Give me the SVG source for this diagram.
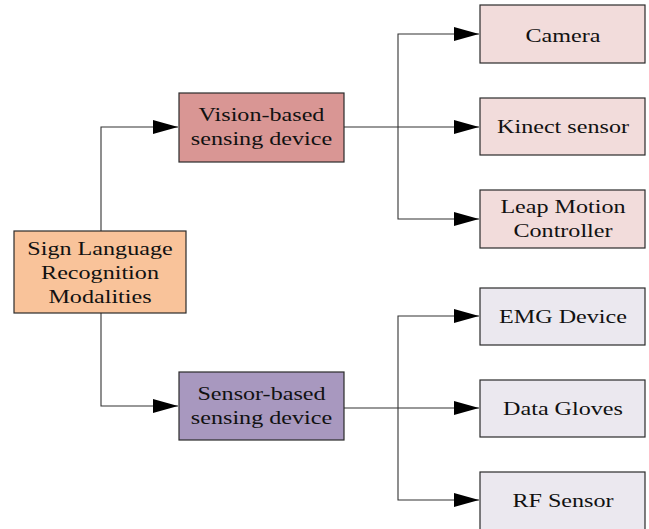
<svg xmlns="http://www.w3.org/2000/svg" width="649" height="529" viewBox="0 0 649 529">
<style>
.box{stroke:#2b2b2b;stroke-width:1.2}
.t{font-family:"Liberation Serif","Times New Roman",serif;font-size:19px;fill:#111;text-anchor:middle}
.c{fill:none;stroke:#333;stroke-width:1.1}
</style>
<defs>
<marker id="arr" markerUnits="userSpaceOnUse" markerWidth="26" markerHeight="16" refX="25" refY="7" orient="auto">
<path d="M0,0 L25,7 L0,14 Z" fill="#000"/>
</marker>
</defs>
<rect width="649" height="529" fill="#fff"/>
<g id="connectors">
<path class="c" d="M101,231 V127 H178" marker-end="url(#arr)"/>
<path class="c" d="M101,313 V406 H178" marker-end="url(#arr)"/>
<path class="c" d="M344,127 H479" marker-end="url(#arr)"/>
<path class="c" d="M398,127 V34 H479" marker-end="url(#arr)"/>
<path class="c" d="M398,127 V219 H479" marker-end="url(#arr)"/>
<path class="c" d="M344,408 H479" marker-end="url(#arr)"/>
<path class="c" d="M398,408 V316 H479" marker-end="url(#arr)"/>
<path class="c" d="M398,408 V500 H479" marker-end="url(#arr)"/>
</g>
<g id="root">
<rect class="box" x="14" y="231" width="172" height="82" fill="#F9C39A"/>
<g transform="translate(100,0) scale(1.27,1)">
<text class="t" x="0" y="255">Sign Language</text>
<text class="t" x="0" y="279">Recognition</text>
<text class="t" x="0" y="303">Modalities</text>
</g>
</g>
<g id="vision">
<rect class="box" x="179" y="93" width="165" height="69" fill="#D99694"/>
<g transform="translate(261.5,0) scale(1.27,1)">
<text class="t" x="0" y="121">Vision-based</text>
<text class="t" x="0" y="145">sensing device</text>
</g>
</g>
<g id="sensor">
<rect class="box" x="179" y="372" width="165" height="68" fill="#A898BF"/>
<g transform="translate(261.5,0) scale(1.27,1)">
<text class="t" x="0" y="400">Sensor-based</text>
<text class="t" x="0" y="424">sensing device</text>
</g>
</g>
<g id="camera">
<rect class="box" x="480" y="5" width="165" height="58" fill="#F2DCDB"/>
<text class="t" transform="translate(563,0) scale(1.27,1)" x="0" y="42">Camera</text>
</g>
<g id="kinect">
<rect class="box" x="480" y="98" width="165" height="57" fill="#F2DCDB"/>
<text class="t" transform="translate(563,0) scale(1.27,1)" x="0" y="133">Kinect sensor</text>
</g>
<g id="leap">
<rect class="box" x="480" y="190" width="165" height="58" fill="#F2DCDB"/>
<g transform="translate(563,0) scale(1.27,1)">
<text class="t" x="0" y="213">Leap Motion</text>
<text class="t" x="0" y="237">Controller</text>
</g>
</g>
<g id="emg">
<rect class="box" x="480" y="288" width="165" height="57" fill="#EBE8EF"/>
<text class="t" transform="translate(563,0) scale(1.27,1)" x="0" y="323">EMG Device</text>
</g>
<g id="gloves">
<rect class="box" x="480" y="380" width="165" height="57" fill="#EBE8EF"/>
<text class="t" transform="translate(563,0) scale(1.27,1)" x="0" y="415">Data Gloves</text>
</g>
<g id="rf">
<rect class="box" x="480" y="472" width="165" height="60" fill="#EBE8EF"/>
<text class="t" transform="translate(563,0) scale(1.27,1)" x="0" y="507">RF Sensor</text>
</g>
</svg>
